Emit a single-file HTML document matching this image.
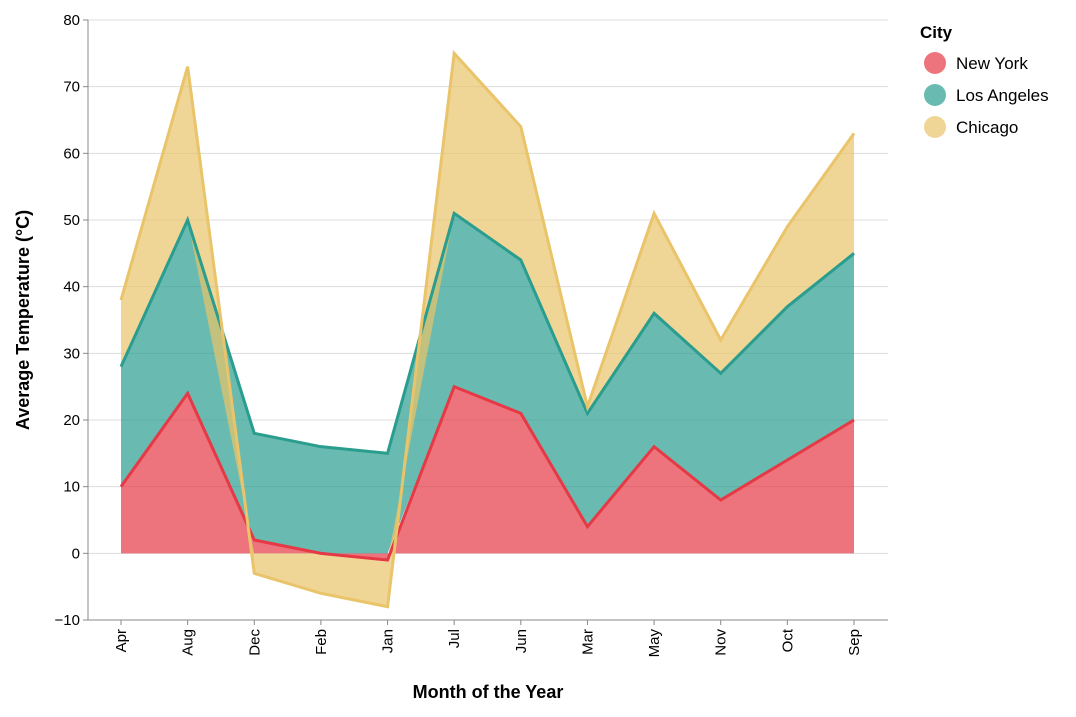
<!DOCTYPE html>
<html><head><meta charset="utf-8"><style>
body{margin:0;background:#fff;font-family:"Liberation Sans",Arial,sans-serif}
</style></head><body>
<svg id="chart" width="1076" height="712" xmlns="http://www.w3.org/2000/svg" font-family="Liberation Sans, Arial, sans-serif"></svg>
<script>
const categories=["Apr","Aug","Dec","Feb","Jan","Jul","Jun","Mar","May","Nov","Oct","Sep"];
const seriesNames=["New York","Los Angeles","Chicago"];
const newYork=[10,24,2,0,-1,25,21,4,16,8,14,20];
const losAngeles=[18,26,16,16,15,26,23,17,20,19,23,25];
const chicago=[10,23,-3,-6,-7,24,20,1,15,5,12,18];
const yTicks=[-10,0,10,20,30,40,50,60,70,80];
const colors=["#e63946","#2a9d8f","#e9c46a"];
const series=[newYork,losAngeles,chicago];
const svg=document.getElementById('chart');
const NS='http://www.w3.org/2000/svg';
const L=88,R=888,T=20,B=620,yMin=-10,yMax=80;
const x=i=>121+i*(854-121)/(categories.length-1);
const y=v=>B-(v-yMin)/(yMax-yMin)*(B-T);
function mk(tag,attrs,parent){const e=document.createElementNS(NS,tag);for(const k in attrs)e.setAttribute(k,attrs[k]);(parent||svg).appendChild(e);return e;}
yTicks.forEach(t=>{
 const g=mk('line',{x1:L,x2:R,y1:y(t),y2:y(t),stroke:'#ddd'});
 
 
 mk('line',{x1:L-5,x2:L,y1:y(t),y2:y(t),stroke:'#888'});
 const tx=mk('text',{x:L-8,y:y(t)+5,'text-anchor':'end','font-size':15,fill:'#000'});
 tx.textContent=(t<0?'\u2212'+(-t):t);
 
 
});
const posAcc=categories.map(()=>0),negAcc=categories.map(()=>0);
const stacks=series.map(s=>s.map((v,i)=>{let y0,y1;if(v<0){y0=negAcc[i];y1=y0+v;negAcc[i]=y1;}else{y0=posAcc[i];y1=y0+v;posAcc[i]=y1;}return [y0,y1];}));
stacks.forEach((st,si)=>{
 let d='M'+st.map((p,i)=>x(i)+','+y(p[1])).join('L');
 for(let i=st.length-1;i>=0;i--)d+='L'+x(i)+','+y(st[i][0]);
 const a=mk('path',{d:d+'Z',fill:colors[si],'fill-opacity':0.7});
 
 
});
stacks.forEach((st,si)=>{
 const ln=mk('path',{d:'M'+st.map((p,i)=>x(i)+','+y(p[1])).join('L'),fill:'none',stroke:colors[si],'stroke-width':3});
 
 
});
mk('line',{x1:L,x2:L,y1:T,y2:B,stroke:'#888'});
mk('line',{x1:L,x2:R,y1:B,y2:B,stroke:'#888'});
categories.forEach((c,i)=>{
 mk('line',{x1:x(i),x2:x(i),y1:B,y2:B+5,stroke:'#888'});
 const t=mk('text',{x:0,y:0,'text-anchor':'end','font-size':15,transform:`translate(${x(i)+5},${B+9}) rotate(-90)`});
 t.textContent=c;
 
 
});
const xt=mk('text',{x:(L+R)/2,y:698,'text-anchor':'middle','font-size':18,'font-weight':'bold'});
xt.textContent='Month of the Year';


const yt=mk('text',{x:0,y:0,'text-anchor':'middle','font-size':18,'font-weight':'bold',transform:`translate(29,${(T+B)/2}) rotate(-90)`});
yt.textContent='Average Temperature (°C)';


const lt=mk('text',{x:920,y:38,'font-size':17,'font-weight':'bold'});
lt.textContent='City';


seriesNames.forEach((n,i)=>{
 const cy=63+i*32;
 const c=mk('circle',{cx:935,cy:cy,r:11,fill:colors[i],'fill-opacity':0.7});
 
 
 const t=mk('text',{x:956,y:cy+6,'font-size':17});
 t.textContent=n;
 
 
});
</script>
</body></html>
